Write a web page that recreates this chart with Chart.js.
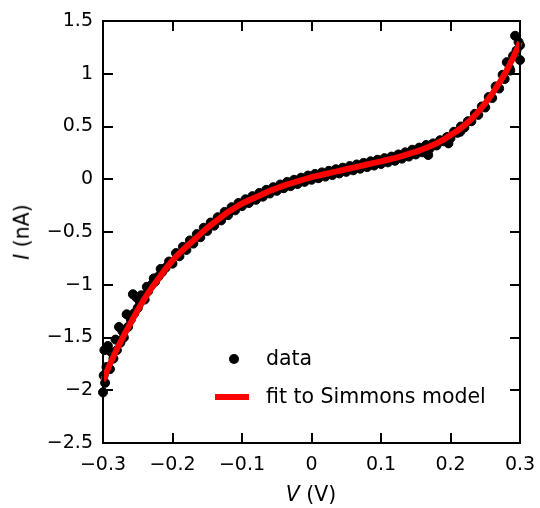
<!DOCTYPE html>
<html>
<head>
<meta charset="utf-8">
<script src="https://cdn.jsdelivr.net/npm/chart.js@4"></script>
<style>
  body { margin: 0; background: #fff; }
  #wrap { position: relative; width: 540px; height: 508px; font-family: "DejaVu Sans", sans-serif; color: #000; }
  .lbl { position: absolute; white-space: nowrap; font-size: 20.5px; line-height: 1; }
  #ytitle { left: 22px; top: 232px; transform: translate(-50%, -50%) rotate(-90deg); }
  #xtitle { left: 311px; top: 494px; transform: translate(-50%, -50%); }
  .dot { position: absolute; width: 10px; height: 10px; border-radius: 50%; background: #000; }
  .bar { position: absolute; height: 6px; background: #ff0000; }
</style>
</head>
<body>
<div id="wrap">
  <canvas id="ivChart" width="540" height="508"></canvas>
  <div class="lbl" id="ytitle"><i>I</i> (nA)</div>
  <div class="lbl" id="xtitle"><i>V</i> (V)</div>
  <div class="dot" style="left:229px; top:354px;"></div>
  <div class="lbl" style="left:266px; top:348px;">data</div>
  <div class="bar" style="left:215px; top:394px; width:34px;"></div>
  <div class="lbl" style="left:266px; top:386px;">fit to Simmons model</div>
</div>
<script>
// measured points (V in volts, I in nA)
const dataV = [
  -0.300, -0.299, -0.298, -0.297, -0.295, -0.293, -0.290, -0.288, -0.285, -0.282,
  -0.280, -0.277, -0.275, -0.272, -0.270, -0.266, -0.264, -0.260, -0.257, -0.255,
  -0.252, -0.250, -0.247, -0.245, -0.240, -0.237, -0.235, -0.230, -0.227, -0.225,
  -0.220, -0.217, -0.215, -0.210, -0.205, -0.200, -0.195, -0.190, -0.185, -0.180,
  -0.175, -0.170, -0.165, -0.160, -0.155, -0.150, -0.145, -0.140, -0.135, -0.130,
  -0.125, -0.120, -0.115, -0.110, -0.105, -0.100, -0.095, -0.090, -0.085, -0.080,
  -0.075, -0.070, -0.065, -0.060, -0.055, -0.050, -0.045, -0.040, -0.035, -0.030,
  -0.025, -0.020, -0.015, -0.010, -0.005, 0.000, 0.005, 0.010, 0.015, 0.020,
  0.025, 0.030, 0.035, 0.040, 0.045, 0.050, 0.055, 0.060, 0.065, 0.070,
  0.075, 0.080, 0.085, 0.090, 0.095, 0.100, 0.105, 0.110, 0.115, 0.120,
  0.125, 0.130, 0.135, 0.140, 0.145, 0.150, 0.155, 0.160, 0.165, 0.168,
  0.170, 0.175, 0.180, 0.185, 0.190, 0.195, 0.197, 0.200, 0.205, 0.210,
  0.214, 0.215, 0.220, 0.225, 0.230, 0.235, 0.240, 0.245, 0.250, 0.255,
  0.260, 0.265, 0.270, 0.275, 0.278, 0.281, 0.285, 0.286, 0.290, 0.293,
  0.295, 0.298, 0.300, 0.300
];
const dataI = [
  -2.02, -1.86, -1.62, -1.93, -1.78, -1.58, -1.80, -1.64, -1.70, -1.52,
  -1.62, -1.40, -1.55, -1.44, -1.50, -1.28, -1.40, -1.33, -1.09, -1.27,
  -1.12, -1.22, -1.16, -1.10, -1.14, -1.02, -1.06, -1.00, -0.94, -0.97,
  -0.92, -0.85, -0.88, -0.84, -0.78, -0.80, -0.70, -0.73, -0.64, -0.67,
  -0.58, -0.61, -0.52, -0.55, -0.46, -0.49, -0.41, -0.44, -0.36, -0.39,
  -0.31, -0.34, -0.265, -0.295, -0.225, -0.255, -0.19, -0.225, -0.16, -0.195,
  -0.13, -0.165, -0.10, -0.135, -0.075, -0.11, -0.05, -0.085, -0.025, -0.065,
  -0.005, -0.045, 0.015, -0.025, 0.035, -0.005, 0.05, 0.01, 0.065, 0.025,
  0.08, 0.04, 0.095, 0.055, 0.11, 0.07, 0.125, 0.085, 0.14, 0.10,
  0.155, 0.115, 0.17, 0.13, 0.185, 0.145, 0.20, 0.16, 0.215, 0.175,
  0.235, 0.195, 0.255, 0.215, 0.28, 0.235, 0.30, 0.255, 0.325, 0.23,
  0.29, 0.34, 0.32, 0.37, 0.36, 0.40, 0.34, 0.39, 0.45, 0.44,
  0.45, 0.50, 0.49, 0.55, 0.55, 0.62, 0.61, 0.69, 0.68, 0.78,
  0.77, 0.88, 0.86, 0.99, 0.95, 1.11, 1.05, 1.03, 1.17, 1.36,
  1.22, 1.30, 1.13, 1.27
];

// Simmons model fit
const fitV = [
  -0.30, -0.29, -0.28, -0.27, -0.26, -0.25, -0.24, -0.23, -0.22, -0.21,
  -0.20, -0.19, -0.18, -0.17, -0.16, -0.15, -0.14, -0.13, -0.12, -0.11,
  -0.10, -0.09, -0.08, -0.07, -0.06, -0.05, -0.04, -0.03, -0.02, -0.01,
  0.00, 0.01, 0.02, 0.03, 0.04, 0.05, 0.06, 0.07, 0.08, 0.09,
  0.10, 0.11, 0.12, 0.13, 0.14, 0.15, 0.16, 0.17, 0.18, 0.19,
  0.20, 0.21, 0.22, 0.23, 0.24, 0.25, 0.26, 0.27, 0.28, 0.29, 0.30
];
const fitI = [
  -1.91, -1.75, -1.61, -1.48, -1.36, -1.24, -1.13, -1.03, -0.94, -0.85,
  -0.77, -0.70, -0.64, -0.58, -0.52, -0.46, -0.41, -0.36, -0.31, -0.27,
  -0.23, -0.20, -0.17, -0.14, -0.11, -0.085, -0.06, -0.04, -0.02, 0.00,
  0.02, 0.035, 0.05, 0.065, 0.08, 0.095, 0.11, 0.125, 0.14, 0.155,
  0.17, 0.185, 0.20, 0.22, 0.24, 0.26, 0.285, 0.31, 0.34, 0.375,
  0.42, 0.46, 0.51, 0.57, 0.64, 0.72, 0.81, 0.91, 1.02, 1.15, 1.30
];

const xTicks = [-0.3, -0.2, -0.1, 0, 0.1, 0.2, 0.3];
const yTicks = [1.5, 1, 0.5, 0, -0.5, -1, -1.5, -2, -2.5];

const FONT = { family: "'DejaVu Sans', sans-serif", size: 19 };
const TICK_LEN = 10;

const minusSign = (v) => String(v).replace("-", "\u2212");

// inward ticks on all four sides plus the closed frame
const frameTicksPlugin = {
  id: "frameTicks",
  afterDraw: (chart) => {
    const { ctx, chartArea: a } = chart;
    const xs = chart.scales.x;
    const ys = chart.scales.y;
    ctx.save();
    ctx.strokeStyle = "#000";
    ctx.lineWidth = 2;
    ctx.beginPath();
    xTicks.forEach((v) => {
      const px = Math.round(xs.getPixelForValue(v));
      ctx.moveTo(px, a.bottom);
      ctx.lineTo(px, a.bottom - TICK_LEN);
      ctx.moveTo(px, a.top);
      ctx.lineTo(px, a.top + TICK_LEN);
    });
    yTicks.forEach((v) => {
      const py = Math.round(ys.getPixelForValue(v));
      ctx.moveTo(a.left, py);
      ctx.lineTo(a.left + TICK_LEN, py);
      ctx.moveTo(a.right, py);
      ctx.lineTo(a.right - TICK_LEN, py);
    });
    ctx.stroke();
    ctx.strokeRect(a.left, a.top, a.right - a.left, a.bottom - a.top);
    ctx.restore();
  },
};

const ctx = document.getElementById("ivChart").getContext("2d");

new Chart(ctx, {
  type: "scatter",
  data: {
    datasets: [
      {
        label: "fit to Simmons model",
        data: fitV.map((v, i) => ({ x: v, y: fitI[i] })),
        showLine: true,
        borderColor: "#ff0000",
        borderWidth: 6,
        pointRadius: 0,
        fill: false,
        order: 1,
        clip: false,
      },
      {
        label: "data",
        data: dataV.map((v, i) => ({ x: v, y: dataI[i] })),
        backgroundColor: "#000",
        borderColor: "#000",
        pointRadius: 4.5,
        pointBorderWidth: 1,
        order: 2,
        clip: false,
      },
    ],
  },
  options: {
    responsive: false,
    animation: false,
    layout: { padding: { left: 0, right: 20, top: 21, bottom: 0 } },
    plugins: {
      legend: { display: false },
      tooltip: { enabled: false },
    },
    scales: {
      x: {
        type: "linear",
        min: -0.3,
        max: 0.3,
        afterFit: (scale) => {
          scale.height = 65;
          scale.paddingLeft = 0;
          scale.paddingRight = 0;
        },
        afterBuildTicks: (scale) => { scale.ticks = xTicks.map((v) => ({ value: v })); },
        ticks: {
          color: "#000",
          font: FONT,
          padding: 11,
          maxRotation: 0,
          callback: (v) => minusSign(v),
        },
        grid: { display: false, drawTicks: false },
        border: { display: false },
      },
      y: {
        type: "linear",
        min: -2.5,
        max: 1.5,
        afterFit: (scale) => {
          scale.width = 103;
          scale.paddingTop = 0;
          scale.paddingBottom = 0;
        },
        afterBuildTicks: (scale) => { scale.ticks = yTicks.map((v) => ({ value: v })); },
        ticks: {
          color: "#000",
          font: FONT,
          padding: 10,
          callback: (v) => minusSign(v),
        },
        grid: { display: false, drawTicks: false },
        border: { display: false },
      },
    },
  },
  plugins: [frameTicksPlugin],
});
</script>
</body>
</html>
